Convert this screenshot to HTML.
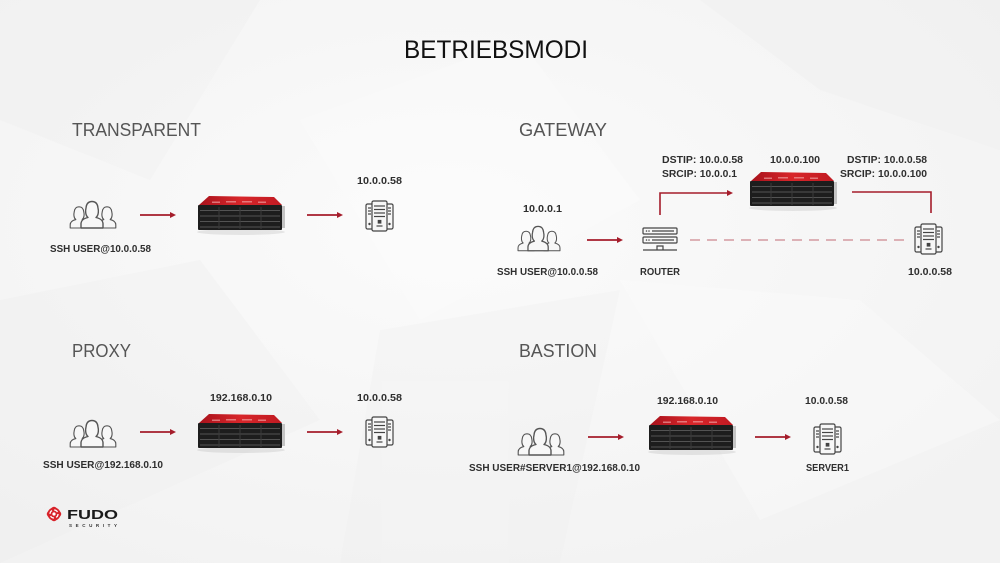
<!DOCTYPE html>
<html><head><meta charset="utf-8"><style>
html,body{margin:0;padding:0;background:#f6f6f6;}
svg{display:block;}
text{font-family:"Liberation Sans",Arial,sans-serif;}
.lb{font-weight:bold;font-size:10px;fill:#2e2e2e;}
.hd{font-size:18px;fill:#555;}
</style></head><body>
<svg width="1000" height="563" viewBox="0 0 1000 563" xmlns="http://www.w3.org/2000/svg">
<defs>
<linearGradient id="redg" x1="0" y1="0" x2="1" y2="0">
<stop offset="0" stop-color="#a8121c"/><stop offset="0.5" stop-color="#d8262a"/><stop offset="1" stop-color="#c01a22"/>
</linearGradient>
<radialGradient id="bgg" cx="0.45" cy="0.4" r="0.7">
<stop offset="0" stop-color="#fbfbfb"/><stop offset="1" stop-color="#f2f2f2"/>
</radialGradient>
<g id="app">
<ellipse cx="43" cy="36" rx="44" ry="3" fill="#000" opacity="0.08"/>
<polygon points="1,9 11,0 76,1 84,9" fill="url(#redg)"/>
<rect x="14" y="5.5" width="8" height="1.5" fill="#f3b0b0" opacity="0.6"/>
<rect x="28" y="5" width="10" height="1.5" fill="#f3b0b0" opacity="0.6"/>
<rect x="44" y="5" width="10" height="1.5" fill="#f3b0b0" opacity="0.6"/>
<rect x="60" y="5.5" width="8" height="1.5" fill="#f3b0b0" opacity="0.6"/>
<rect x="0" y="9" width="84" height="25" rx="1" fill="#1d1d1d"/>
<g stroke="#666" stroke-width="0.8">
<line x1="2" y1="14.5" x2="82" y2="14.5"/><line x1="2" y1="20" x2="82" y2="20"/>
<line x1="2" y1="25.5" x2="82" y2="25.5"/><line x1="2" y1="31" x2="82" y2="31"/>
</g>
<g stroke="#3a3a3a" stroke-width="1">
<line x1="21" y1="11" x2="21" y2="33"/><line x1="42" y1="11" x2="42" y2="33"/><line x1="63" y1="11" x2="63" y2="33"/>
</g>
<rect x="84" y="10" width="3" height="22" fill="#c4c4c4"/>
</g>
<path id="person" d="M13,28 V24 C13,20 16,18.5 20,17.5 C17,15 17.5,10 18,8 C18.5,3 21,1.5 24,1.5 C27,1.5 29.5,3 30,8 C30.5,10 31,15 28,17.5 C32,18.5 35,20 35,24 V28 Z"/>
<g id="users" stroke="#555" stroke-width="1.4" fill="#f7f7f7" stroke-linejoin="round">
<use href="#person" transform="translate(-8.2,5.6) scale(0.8)"/>
<use href="#person" transform="translate(19.8,5.6) scale(0.8)"/>
<use href="#person"/>
</g>
<g id="srv" stroke="#444" stroke-width="1.2" fill="#f7f7f7">
<rect x="1" y="3" width="8" height="25" rx="1.5"/>
<rect x="20" y="3" width="8" height="25" rx="1.5"/>
<rect x="7" y="0" width="15" height="30" rx="1.5"/>
<line x1="9" y1="5" x2="20" y2="5"/><line x1="9" y1="8.5" x2="20" y2="8.5"/>
<line x1="9" y1="12" x2="20" y2="12"/><line x1="9" y1="15.5" x2="20" y2="15.5"/>
<rect x="13.3" y="19.5" width="2.5" height="2.5" fill="#444"/>
<line x1="11.5" y1="25" x2="17.5" y2="25"/>
<line x1="3" y1="7" x2="6" y2="7"/><line x1="3" y1="10" x2="6" y2="10"/><line x1="3" y1="13" x2="6" y2="13"/>
<line x1="23" y1="7" x2="26" y2="7"/><line x1="23" y1="10" x2="26" y2="10"/><line x1="23" y1="13" x2="26" y2="13"/>
<circle cx="4.5" cy="23" r="0.6" fill="#444"/><circle cx="24.5" cy="23" r="0.6" fill="#444"/>
</g>
<g id="arr">
<line x1="0" y1="0" x2="31" y2="0" stroke="#a51d2b" stroke-width="1.8"/>
<polygon points="30,-3 36,0 30,3" fill="#a51d2b"/>
</g>
</defs>

<rect width="1000" height="563" fill="url(#bgg)"/>
<g opacity="0.35">
<polygon points="0,0 260,0 150,180 0,120" fill="#ededed"/>
<polygon points="300,120 520,40 640,200 420,320" fill="#fdfdfd"/>
<polygon points="700,0 1000,0 1000,150 820,90" fill="#efefef"/>
<polygon points="0,300 200,260 320,420 0,563" fill="#efefef"/>
<polygon points="620,280 860,300 1000,420 760,520" fill="#fdfdfd"/>
<polygon points="380,330 620,290 560,563 340,563" fill="#f0f0f0"/>
</g>

<!-- Title & headings -->
<text x="404" y="58" font-size="25" fill="#111" textLength="184" lengthAdjust="spacingAndGlyphs">BETRIEBSMODI</text>
<text class="hd" x="72" y="136" textLength="129" lengthAdjust="spacingAndGlyphs">TRANSPARENT</text>
<text class="hd" x="519" y="136" textLength="88" lengthAdjust="spacingAndGlyphs">GATEWAY</text>
<text class="hd" x="72" y="357" textLength="59" lengthAdjust="spacingAndGlyphs">PROXY</text>
<text class="hd" x="519" y="357" textLength="78" lengthAdjust="spacingAndGlyphs">BASTION</text>

<!-- TRANSPARENT -->
<use href="#users" x="68" y="200"/>
<use href="#arr" x="140" y="215"/>
<use href="#app" x="198" y="196"/>
<use href="#arr" x="307" y="215"/>
<use href="#srv" x="365" y="201"/>
<text class="lb" x="357" y="184" textLength="45" lengthAdjust="spacingAndGlyphs">10.0.0.58</text>
<text class="lb" x="50" y="252" textLength="101" lengthAdjust="spacingAndGlyphs">SSH USER@10.0.0.58</text>

<!-- PROXY -->
<use href="#users" x="68" y="419"/>
<use href="#arr" x="140" y="432"/>
<use href="#app" x="198" y="414"/>
<use href="#arr" x="307" y="432"/>
<use href="#srv" x="365" y="417"/>
<text class="lb" x="210" y="401" textLength="62" lengthAdjust="spacingAndGlyphs">192.168.0.10</text>
<text class="lb" x="357" y="401" textLength="45" lengthAdjust="spacingAndGlyphs">10.0.0.58</text>
<text class="lb" x="43" y="468" textLength="120" lengthAdjust="spacingAndGlyphs">SSH USER@192.168.0.10</text>

<!-- GATEWAY -->
<g transform="translate(516,225) scale(0.92)"><use href="#users"/></g>
<use href="#arr" x="587" y="240"/>
<g stroke="#444" stroke-width="1.2" fill="none">
<rect x="643" y="228" width="34" height="6" rx="1"/>
<rect x="643" y="237" width="34" height="6" rx="1"/>
<line x1="652" y1="231" x2="674" y2="231"/>
<line x1="652" y1="240" x2="674" y2="240"/>
<line x1="643" y1="250" x2="677" y2="250"/>
<path d="M657,250 V246 H663 V250"/>
</g>
<circle cx="646.5" cy="231" r="0.8" fill="#444"/><circle cx="649" cy="231" r="0.8" fill="#444"/>
<circle cx="646.5" cy="240" r="0.8" fill="#444"/><circle cx="649" cy="240" r="0.8" fill="#444"/>
<line x1="690" y1="240" x2="907" y2="240" stroke="#d49aa0" stroke-width="1.6" stroke-dasharray="10,7"/>
<polyline points="660,215 660,193 727,193" fill="none" stroke="#a51d2b" stroke-width="1.6"/>
<polygon points="727,190 733,193 727,196" fill="#a51d2b"/>
<use href="#app" x="750" y="172"/>
<polyline points="852,192 931,192 931,213" fill="none" stroke="#a51d2b" stroke-width="1.6"/>
<use href="#srv" x="914" y="224"/>
<text class="lb" x="523" y="212" textLength="39" lengthAdjust="spacingAndGlyphs">10.0.0.1</text>
<text class="lb" x="497" y="275" textLength="101" lengthAdjust="spacingAndGlyphs">SSH USER@10.0.0.58</text>
<text class="lb" x="640" y="275" textLength="40" lengthAdjust="spacingAndGlyphs">ROUTER</text>
<text class="lb" x="908" y="275" textLength="44" lengthAdjust="spacingAndGlyphs">10.0.0.58</text>
<text class="lb" x="662" y="163" textLength="81" lengthAdjust="spacingAndGlyphs">DSTIP: 10.0.0.58</text>
<text class="lb" x="662" y="177" textLength="75" lengthAdjust="spacingAndGlyphs">SRCIP: 10.0.0.1</text>
<text class="lb" x="770" y="163" textLength="50" lengthAdjust="spacingAndGlyphs">10.0.0.100</text>
<text class="lb" x="847" y="163" textLength="80" lengthAdjust="spacingAndGlyphs">DSTIP: 10.0.0.58</text>
<text class="lb" x="840" y="177" textLength="87" lengthAdjust="spacingAndGlyphs">SRCIP: 10.0.0.100</text>

<!-- BASTION -->
<use href="#users" x="516" y="427"/>
<use href="#arr" x="588" y="437"/>
<use href="#app" x="649" y="416"/>
<use href="#arr" x="755" y="437"/>
<use href="#srv" x="813" y="424"/>
<text class="lb" x="657" y="404" textLength="61" lengthAdjust="spacingAndGlyphs">192.168.0.10</text>
<text class="lb" x="805" y="404" textLength="43" lengthAdjust="spacingAndGlyphs">10.0.0.58</text>
<text class="lb" x="469" y="471" textLength="171" lengthAdjust="spacingAndGlyphs">SSH USER#SERVER1@192.168.0.10</text>
<text class="lb" x="806" y="471" textLength="43" lengthAdjust="spacingAndGlyphs">SERVER1</text>

<!-- Logo -->
<g transform="translate(54,514)">
<rect x="-6" y="-6" width="12" height="12" rx="3" fill="#d8232a" transform="rotate(45)"/>
<circle r="6.5" fill="#d8232a"/>
<circle r="4" fill="none" stroke="#fff" stroke-width="1.3" stroke-dasharray="4,2.3"/>
<circle r="1.6" fill="#fff"/>
</g>
<text x="67" y="519" font-size="13" font-weight="bold" fill="#1a1a1a" textLength="51" lengthAdjust="spacingAndGlyphs">FUDO</text>
<text x="69" y="527" font-size="4.5" font-weight="bold" fill="#333" textLength="48" lengthAdjust="spacing">SECURITY</text>
</svg>
</body></html>
